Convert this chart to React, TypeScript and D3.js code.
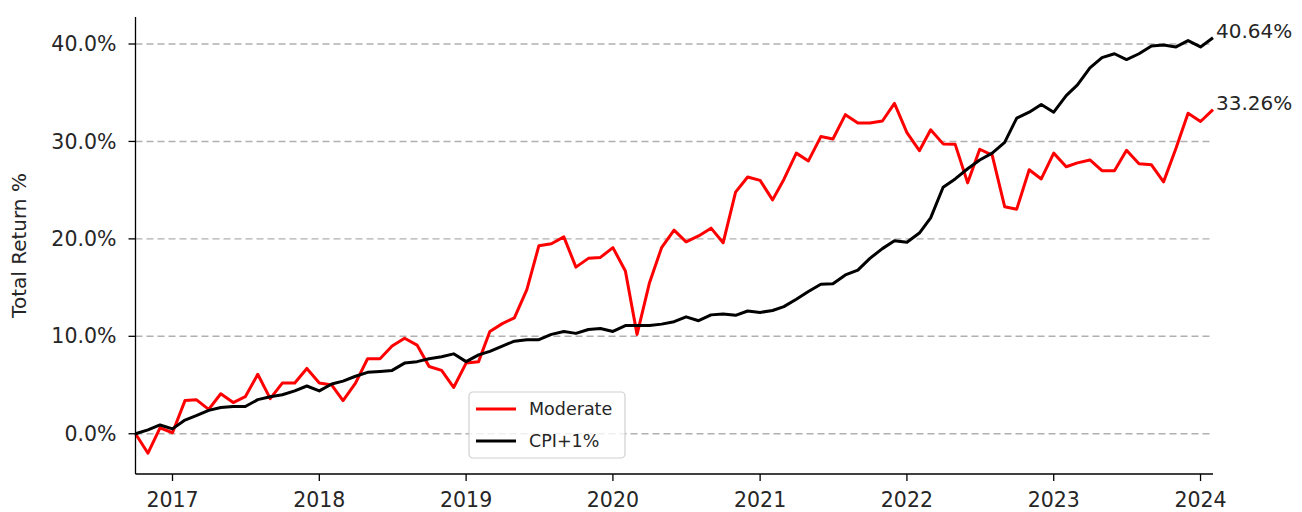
import * as d3 from "d3"

// monthly observations, Oct 2016 .. Feb 2024
const startMonth = new Date(2016, 9, 1)
const moderate = [
  0, -2.0, 0.6, 0.1, 3.4, 3.5, 2.5, 4.1, 3.2, 3.8, 6.1, 3.6, 5.2, 5.2, 6.7, 5.2,
  5.0, 3.4, 5.2, 7.7, 7.7, 9.0, 9.8, 9.1, 6.9, 6.5, 4.75, 7.25, 7.4, 10.5, 11.3,
  11.9, 14.8, 19.3, 19.5, 20.2, 17.1, 18.0, 18.1, 19.1, 16.7, 10.2, 15.5, 19.1,
  20.9, 19.7, 20.3, 21.1, 19.6, 24.8, 26.35, 26.0, 24.0, 26.1, 28.8, 28.0, 30.5,
  30.25, 32.75, 31.9, 31.9, 32.1, 33.9, 30.9, 29.05, 31.2, 29.75, 29.7, 25.75,
  29.2, 28.6, 23.3, 23.05, 27.1, 26.15, 28.8, 27.4, 27.8, 28.1, 27.0, 27.0, 29.1,
  27.7, 27.6, 25.85, 29.3, 32.9, 32.05, 33.26,
]
const cpiPlus1 = [
  0, 0.4, 0.9, 0.5, 1.4, 1.85, 2.4, 2.7, 2.8, 2.8, 3.5, 3.8, 4.0, 4.4, 4.9, 4.4,
  5.1, 5.4, 5.9, 6.3, 6.4, 6.5, 7.25, 7.4, 7.7, 7.9, 8.2, 7.4, 8.1, 8.45, 9.0,
  9.5, 9.65, 9.65, 10.2, 10.5, 10.3, 10.7, 10.8, 10.5, 11.1, 11.1, 11.1, 11.25,
  11.5, 12.0, 11.6, 12.2, 12.3, 12.15, 12.6, 12.45, 12.65, 13.05, 13.8, 14.6,
  15.35, 15.4, 16.3, 16.8, 18.0, 19.0, 19.8, 19.65, 20.6, 22.15, 25.3, 26.15,
  27.2, 28.1, 28.8, 29.9, 32.4, 33.0, 33.8, 33.0, 34.7, 35.8, 37.55, 38.6, 39.0,
  38.4, 39.0, 39.8, 39.9, 39.7, 40.35, 39.7, 40.64,
]
const yTicks = [0, 10, 20, 30, 40]
const xTickYears = [2017, 2018, 2019, 2020, 2021, 2022, 2023, 2024]

const series = [
  { name: "Moderate", values: moderate, color: "#ff0000" },
  { name: "CPI+1%", values: cpiPlus1, color: "#000000" },
]

const W = 1302
const H = 512
const margin = { top: 17, right: 89, bottom: 38, left: 135.5 }
const font = "DejaVu Sans, sans-serif"
const textColor = "#262626"

export default function App() {
  const dates = moderate.map((_, i) => d3.timeMonth.offset(startMonth, i))

  const x = d3
    .scaleTime()
    .domain([dates[0], dates[dates.length - 1]])
    .range([margin.left, W - margin.right])

  const allVals = [...moderate, ...cpiPlus1]
  const lo = d3.min(allVals) as number
  const hi = d3.max(allVals) as number
  const pad = (hi - lo) * 0.05
  const y = d3
    .scaleLinear()
    .domain([lo - pad, hi + pad])
    .range([H - margin.bottom, margin.top])

  const line = d3
    .line<number>()
    .x((_, i) => x(dates[i]))
    .y((d) => y(d))

  const x0 = margin.left
  const x1 = W - margin.right
  const yBottom = H - margin.bottom
  const fmt = d3.format(".1f")
  const fmtLast = d3.format(".2f")

  return (
    <div style={{ position: "absolute", left: 0, top: 0 }}>
      <svg width={W} height={H} style={{ display: "block", background: "#fff" }}>
        {/* grid */}
        {yTicks.map((t) => (
          <line
            key={"g" + t}
            x1={x0}
            x2={x1}
            y1={y(t)}
            y2={y(t)}
            stroke="#b0b0b0"
            strokeWidth={1.4}
            strokeDasharray="7,4"
          />
        ))}

        {/* series */}
        {series.map((s) => (
          <path
            key={s.name}
            d={line(s.values) || ""}
            fill="none"
            stroke={s.color}
            strokeWidth={3}
            strokeLinejoin="round"
          />
        ))}

        {/* end labels */}
        {series.map((s) => {
          const last = s.values[s.values.length - 1]
          return (
            <text
              key={"lbl" + s.name}
              x={x(dates[dates.length - 1]) + 3}
              y={y(last)}
              fontFamily={font}
              fontSize={20}
              fill={textColor}
            >
              {fmtLast(last)}%
            </text>
          )
        })}

        {/* spines */}
        <line x1={x0} x2={x0} y1={margin.top} y2={yBottom} stroke="#000" strokeWidth={1.3} />
        <line x1={x0} x2={x1} y1={yBottom} y2={yBottom} stroke="#000" strokeWidth={1.3} />

        {/* y axis */}
        {yTicks.map((t) => (
          <g key={"y" + t}>
            <line x1={x0 - 7} x2={x0} y1={y(t)} y2={y(t)} stroke="#000" strokeWidth={1.3} />
            <text
              x={x0 - 19}
              y={y(t)}
              dy="0.35em"
              textAnchor="end"
              fontFamily={font}
              fontSize={20.5}
              fill={textColor}
            >
              {fmt(t)}%
            </text>
          </g>
        ))}
        <text
          transform={`translate(26,${(margin.top + yBottom) / 2}) rotate(-90)`}
          textAnchor="middle"
          fontFamily={font}
          fontSize={20}
          fill={textColor}
        >
          Total Return %
        </text>

        {/* x axis */}
        {xTickYears.map((yr) => {
          const px = x(new Date(yr, 0, 1))
          return (
            <g key={"x" + yr}>
              <line x1={px} x2={px} y1={yBottom} y2={yBottom + 7} stroke="#000" strokeWidth={1.3} />
              <text
                x={px}
                y={yBottom + 33}
                textAnchor="middle"
                fontFamily={font}
                fontSize={20.5}
                fill={textColor}
              >
                {yr}
              </text>
            </g>
          )
        })}

        {/* legend */}
        <g transform="translate(469,392)">
          <rect
            x={0}
            y={0}
            width={156}
            height={66}
            rx={4}
            fill="#fff"
            fillOpacity={0.8}
            stroke="#d0d0d0"
            strokeWidth={1.2}
          />
          {series.map((s, i) => (
            <g key={"leg" + s.name} transform={`translate(0,${17 + i * 32})`}>
              <line x1={7} x2={47} y1={0} y2={0} stroke={s.color} strokeWidth={3} />
              <text x={60} y={0} dy="0.35em" fontFamily={font} fontSize={17.5} fill={textColor}>
                {s.name}
              </text>
            </g>
          ))}
        </g>
      </svg>
    </div>
  )
}
